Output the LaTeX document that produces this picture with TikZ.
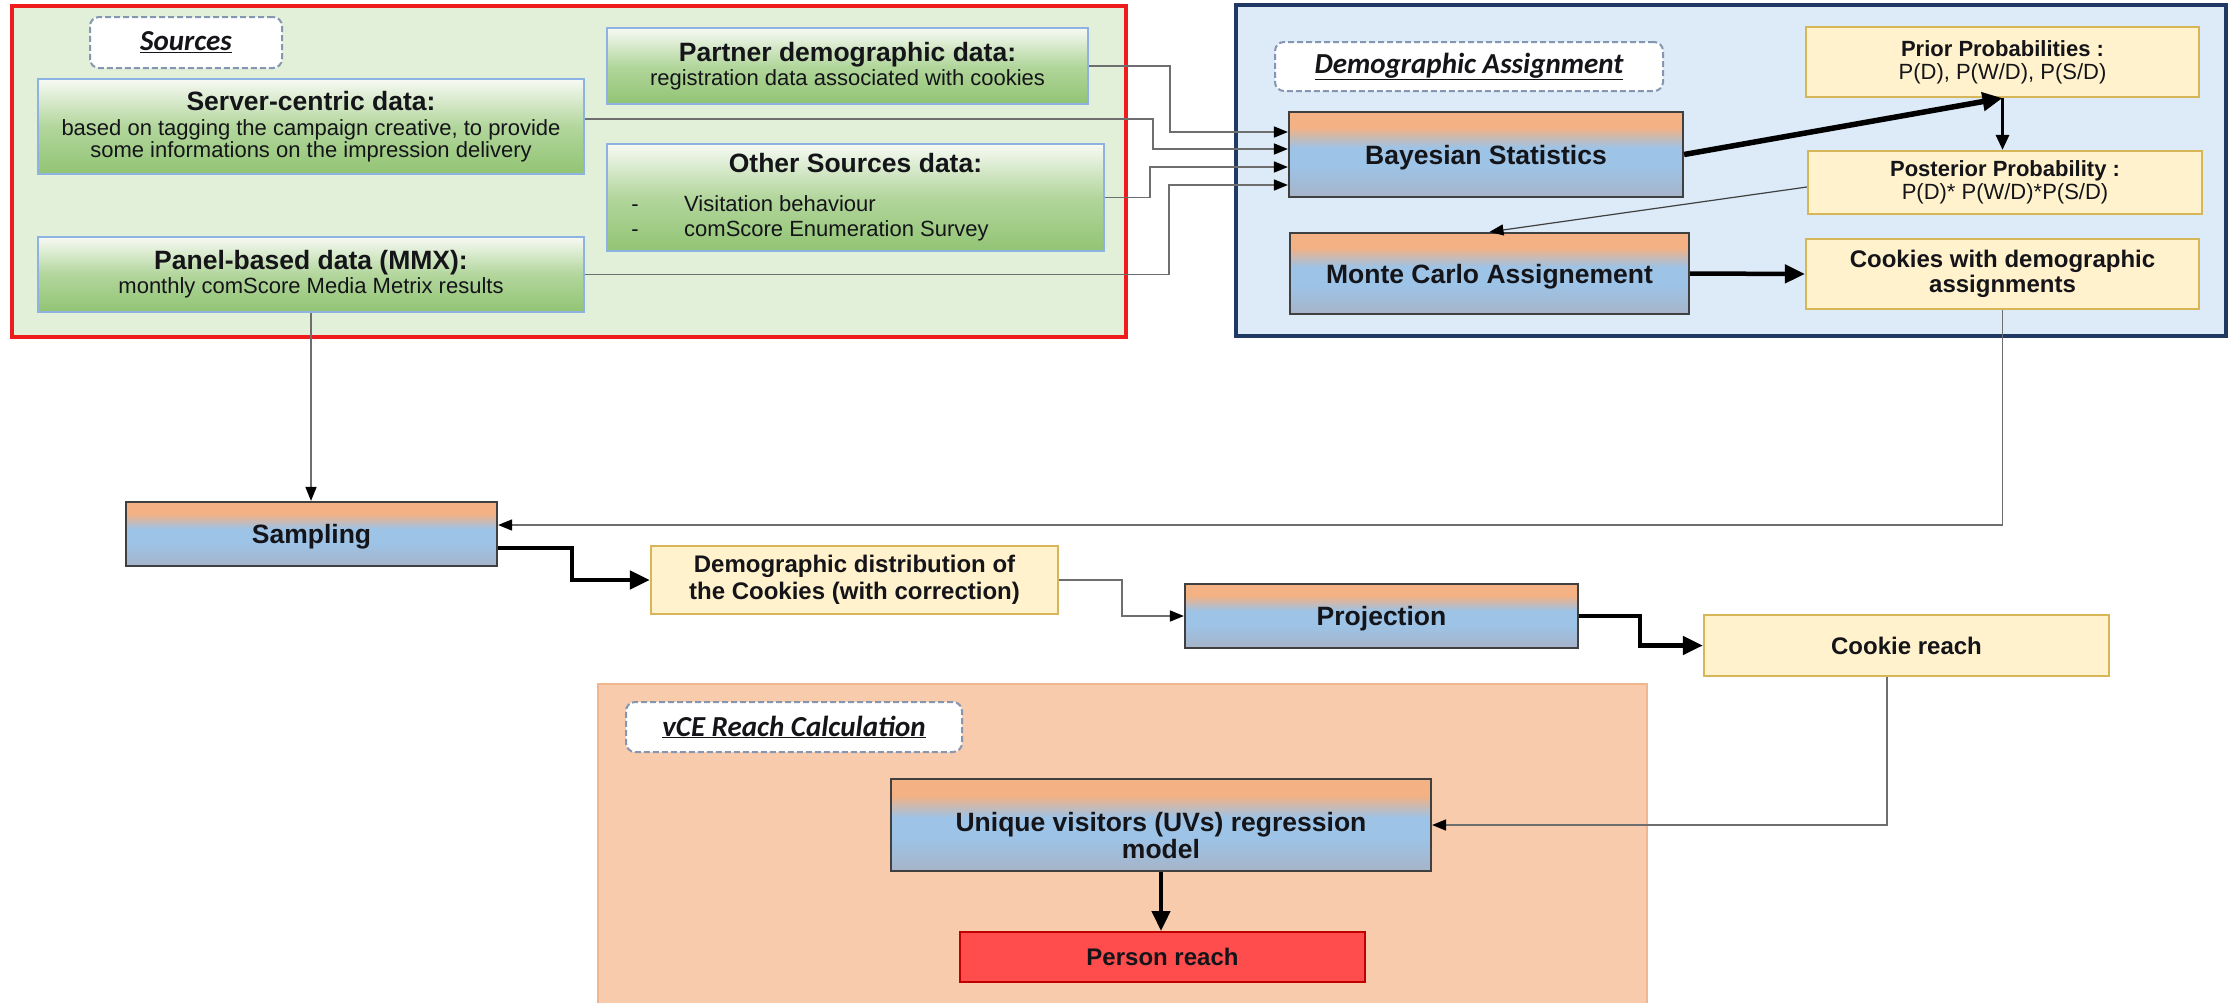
\documentclass[tikz,border=0pt]{standalone}
\usepackage{fontspec}
\setmainfont{Liberation Sans}
\newfontfamily\lblfont{Carlito}
\usetikzlibrary{arrows.meta}
\definecolor{srcfill}{RGB}{226,240,217}
\definecolor{srcred}{RGB}{238,28,28}
\definecolor{demofill}{RGB}{221,234,247}
\definecolor{demonavy}{RGB}{31,56,100}
\definecolor{vcefill}{RGB}{248,203,173}
\definecolor{vceedge}{RGB}{240,182,142}
\definecolor{gtop}{RGB}{247,250,244}
\definecolor{gmid}{RGB}{178,214,156}
\definecolor{gbot}{RGB}{146,196,116}
\definecolor{gedge}{RGB}{141,179,226}
\definecolor{otop}{RGB}{244,177,131}
\definecolor{bmid}{RGB}{157,195,230}
\definecolor{bbot}{RGB}{166,180,201}
\definecolor{bedge}{RGB}{64,64,64}
\definecolor{yfill}{RGB}{255,242,204}
\definecolor{yedge}{RGB}{214,182,86}
\definecolor{pfill}{RGB}{255,77,77}
\definecolor{pedge}{RGB}{192,0,0}
\definecolor{lbledge}{RGB}{132,150,176}
\definecolor{conn}{RGB}{110,110,110}
\definecolor{txt}{RGB}{20,20,25}
\pgfdeclareverticalshading{greenshade}{100bp}{color(0bp)=(gbot); color(25bp)=(gbot); color(50bp)=(gmid); color(75bp)=(gtop); color(100bp)=(gtop)}
\pgfdeclareverticalshading{obshade}{100bp}{color(0bp)=(bbot); color(25bp)=(bbot); color(43bp)=(bmid); color(54bp)=(bmid); color(66bp)=(otop); color(75bp)=(otop); color(100bp)=(otop)}
\tikzset{
  gbox/.style={draw=gedge, line width=2pt, shade, shading=greenshade, inner sep=0pt, align=center, text=txt},
  obbox/.style={draw=bedge, line width=2.2pt, shade, shading=obshade, inner sep=0pt, align=center, text=txt,
     font=\fontsize{26.5}{28}\selectfont\bfseries},
  oneline/.style={text height=19pt, text depth=0pt},
  ybox/.style={draw=yedge, line width=2.2pt, fill=yfill, inner sep=0pt, align=center, text=txt},
  pbox/.style={draw=pedge, line width=2pt, fill=pfill, inner sep=0pt, align=center, text=txt,
     font=\fontsize{24}{26}\selectfont\bfseries},
  lblbox/.style={draw=lbledge, dash pattern=on 6pt off 3pt, line width=2pt, rounded corners=9pt, fill=white,
     inner sep=0pt, text=txt, font=\lblfont\fontsize{29}{30}\selectfont\bfseries\itshape},
  plain/.style={inner sep=0pt, text=txt},
  thinconn/.style={draw=conn, line width=1.6pt, -{Triangle[length=14pt,width=11pt,color=black]}},
  medconn/.style={draw=black, line width=3pt, -{Triangle[length=15pt,width=13pt]}},
  thickconn/.style={draw=black, line width=4.5pt, -{Triangle[length=20pt,width=18pt]}},
}
\begin{document}
\begin{tikzpicture}[x=1pt,y=-1pt]
\useasboundingbox (0,0) rectangle (2230,1002);
\fill[white] (0,0) rectangle (2230,1002);

% regions
\draw[draw=srcred, line width=3.5pt, fill=srcfill] (12,6) rectangle (1126,337);
\draw[draw=demonavy, line width=3.5pt, fill=demofill] (1236,5) rectangle (2226,336);
\draw[draw=vceedge, line width=1.5pt, fill=vcefill] (598,684) rectangle (1647,1010);

% labels
\node[lblbox, minimum width=192pt, minimum height=51pt] (lsrc) at (186,42.5) {\underline{Sources}};
\node[lblbox, minimum width=388pt, minimum height=49pt] (ldemo) at (1469,66.5) {\underline{Demographic Assignment}};
\node[lblbox, minimum width=336pt, minimum height=50pt] (lvce) at (794,727) {\underline{vCE Reach Calculation}};

% sources
\node[gbox, minimum width=481pt, minimum height=76pt, font=\fontsize{22}{24}\selectfont] (partner) at (847.5,66)
  {{\fontsize{26.5}{27}\selectfont\bfseries Partner demographic data:}\\registration data associated with cookies};
\node[gbox, minimum width=546pt, minimum height=95pt, font=\fontsize{22}{22.5}\selectfont] (server) at (311,126.5)
  {{\fontsize{26.5}{27}\selectfont\bfseries Server-centric data:}\\[2.5pt]based on tagging the campaign creative, to provide\\some informations on the impression delivery};
\node[gbox, minimum width=497pt, minimum height=107pt] (other) at (855.5,197.5) {};
\node[plain, anchor=base, font=\fontsize{26.5}{27}\selectfont\bfseries] (othert) at (855.5,172.5) {Other Sources data:};
\node[plain, anchor=base, font=\fontsize{22}{24}\selectfont] (od1) at (635,211) {-};
\node[plain, anchor=base, font=\fontsize{22}{24}\selectfont] (od2) at (635,236) {-};
\node[plain, anchor=base west, font=\fontsize{22}{24}\selectfont] (ob1) at (684,211) {Visitation behaviour};
\node[plain, anchor=base west, font=\fontsize{22}{24}\selectfont] (ob2) at (684,236) {comScore Enumeration Survey};
\node[gbox, minimum width=546pt, minimum height=75pt, font=\fontsize{22}{24}\selectfont] (panel) at (311,274.5)
  {{\fontsize{26.5}{27}\selectfont\bfseries Panel-based data (MMX):}\\monthly comScore Media Metrix results};

% demographic assignment
\node[obbox, oneline, minimum width=394pt, minimum height=85pt] (bayes) at (1486,154.5) {Bayesian Statistics};
\node[obbox, oneline, minimum width=399pt, minimum height=81pt] (mc) at (1489.5,273.5) {Monte Carlo Assignement};
\node[ybox, minimum width=393pt, minimum height=70pt, font=\fontsize{22}{23}\selectfont] (prior) at (2002.5,62)
  {\textbf{Prior Probabilities :}\\P(D), P(W/D), P(S/D)};
\node[ybox, minimum width=394pt, minimum height=63pt, font=\fontsize{22}{22.5}\selectfont] (post) at (2005,182.5)
  {\textbf{Posterior Probability :}\\P(D)* P(W/D)*P(S/D)};
\node[ybox, minimum width=393pt, minimum height=70pt, font=\fontsize{24}{25.5}\selectfont\bfseries] (cdemo) at (2002.5,274)
  {Cookies with demographic\\assignments};

% lower flow
\node[obbox, oneline, minimum width=371pt, minimum height=64pt] (sampling) at (311.5,534) {Sampling};
\node[ybox, minimum width=407pt, minimum height=68pt, font=\fontsize{24}{26.5}\selectfont\bfseries] (demodist) at (854.5,580)
  {Demographic distribution of\\the Cookies (with correction)};
\node[obbox, oneline, minimum width=393pt, minimum height=64pt] (proj) at (1381.5,616) {Projection};
\node[ybox, minimum width=405pt, minimum height=61pt, font=\fontsize{24}{26}\selectfont\bfseries] (creach) at (1906.5,645.5) {Cookie reach};
\node[obbox, minimum width=540pt, minimum height=92pt] (uv) at (1161,825) {};
\node[plain, align=center, font=\fontsize{26.5}{27}\selectfont\bfseries] (uvt) at (1161,835.5) {Unique visitors (UVs) regression\\model};
\node[pbox, minimum width=405pt, minimum height=50pt] (person) at (1162.5,957) {Person reach};

% connectors
\draw[thinconn] (partner.east) -| (1170,132) -- ([yshift=22.5pt]bayes.west);
\draw[thinconn] ([yshift=7.5pt]server.east) -| (1153,149) -- ([yshift=5.5pt]bayes.west);
\draw[thinconn] (other.east) -| (1150,167) -- ([yshift=-12.5pt]bayes.west);
\draw[thinconn] (panel.east) -| (1169,185) -- ([yshift=-30.5pt]bayes.west);
\draw[thickconn, line width=5.5pt] (bayes.east) -- (prior.south);
\draw[medconn] (prior.south) -- (prior.south |- post.north);
\draw[thinconn, line width=1.2pt, draw=black!75] ([yshift=-4.5pt]post.west) -- (mc.north);
\draw[thickconn] (mc.east) -- (cdemo.west);
\draw[thinconn] (cdemo.south) |- ([yshift=9pt]sampling.east);
\draw[thinconn] (panel.south) -- (panel.south |- sampling.north);
\draw[thickconn] ([yshift=-14pt]sampling.east) -- (572,548) |- (demodist.west);
\draw[thinconn] (demodist.east) -- (1122,580) |- (proj.west);
\draw[thickconn] (proj.east) -- (1640,616) |- (creach.west);
\draw[thinconn] ([xshift=-19.5pt]creach.south) |- (uv.east);
\draw[thickconn] (uv.south) -- (uv.south |- person.north);
\end{tikzpicture}
\end{document}
